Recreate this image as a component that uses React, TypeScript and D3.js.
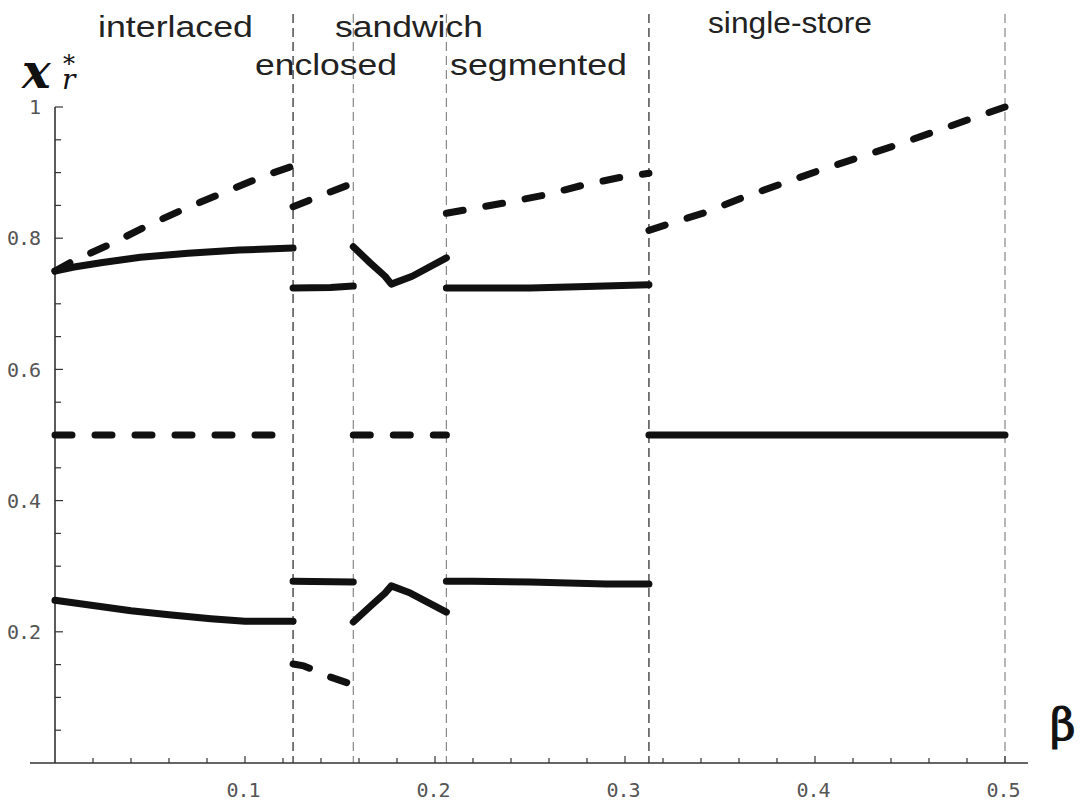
import React, { useEffect } from "react";
import * as d3 from "d3";

// ---------- data ----------
const regionNames = ["interlaced", "enclosed", "sandwich", "segmented", "single-store"];
const regionBounds = [0.1253, 0.157, 0.206, 0.3126, 0.5];

const xTickLabels = ["0.1", "0.2", "0.3", "0.4", "0.5"];
const yTickLabels = ["0.2", "0.4", "0.6", "0.8", "1"];

// interlaced
const upperSolid1 = [[0, 0.75], [0.01, 0.756], [0.025, 0.763], [0.045, 0.771], [0.07, 0.777], [0.097, 0.782], [0.1253, 0.785]];
const lowerSolid1 = [[0, 0.248], [0.02, 0.24], [0.04, 0.232], [0.06, 0.226], [0.082, 0.22], [0.1, 0.216], [0.1253, 0.216]];
const upperDashed1 = [[0, 0.75], [0.01, 0.766], [0.03, 0.792], [0.05, 0.821], [0.07, 0.847], [0.09, 0.871], [0.11, 0.895], [0.1253, 0.91]];
const midDashed1 = [[0, 0.5], [0.1253, 0.5]];
// enclosed
const upperDashed2 = [[0.1253, 0.848], [0.14, 0.865], [0.157, 0.884]];
const upperSolid2 = [[0.1253, 0.724], [0.145, 0.725], [0.157, 0.727]];
const lowerSolid2 = [[0.1253, 0.277], [0.157, 0.276]];
const lowerDashed2 = [[0.1253, 0.151], [0.131, 0.148], [0.145, 0.131], [0.157, 0.119]];
// sandwich
const upperSolid3 = [[0.157, 0.787], [0.166, 0.762], [0.1737, 0.742], [0.177, 0.73], [0.188, 0.742], [0.206, 0.77]];
const lowerSolid3 = [[0.157, 0.215], [0.166, 0.239], [0.1737, 0.259], [0.177, 0.27], [0.187, 0.259], [0.206, 0.23]];
const midDashed3 = [[0.157, 0.5], [0.206, 0.5]];
// segmented
const upperDashed4 = [[0.206, 0.838], [0.237, 0.854], [0.258, 0.866], [0.278, 0.881], [0.298, 0.893], [0.3126, 0.899]];
const upperSolid4 = [[0.206, 0.724], [0.25, 0.724], [0.275, 0.726], [0.3126, 0.729]];
const lowerSolid4 = [[0.206, 0.277], [0.22, 0.277], [0.25, 0.276], [0.29, 0.273], [0.3126, 0.273]];
// single-store
const upperDashed5 = [[0.3126, 0.812], [0.343, 0.84], [0.362, 0.862], [0.403, 0.904], [0.443, 0.942], [0.482, 0.982], [0.5, 1.0]];
const midSolid5 = [[0.3126, 0.5], [0.5, 0.5]];

const solidCurves = [upperSolid1, lowerSolid1, upperSolid2, lowerSolid2, upperSolid3, lowerSolid3, upperSolid4, lowerSolid4, midSolid5];
const dashedCurves = [upperDashed1, midDashed1, upperDashed2, lowerDashed2, midDashed3, upperDashed4, upperDashed5];

// ---------- layout ----------
const W = 1088, H = 809;
const xScale = d3.scaleLinear().domain([0, 0.5]).range([55, 1005]);
const yScale = d3.scaleLinear().domain([0, 1]).range([763, 107]);
const labelLayout = [
  { x: 98, y: 37, w: 155 },
  { x: 255, y: 75, w: 142 },
  { x: 335, y: 37, w: 148 },
  { x: 450, y: 75, w: 177 },
  { x: 708, y: 33, w: 164 },
];
const boundColors = ["#222", "#888", "#888", "#222", "#888"];

export default function App() {
  useEffect(() => {
    document.body.style.margin = "0";
  }, []);
  const line = d3
    .line<number[]>()
    .x((d) => xScale(d[0]))
    .y((d) => yScale(d[1]));

  const xMinor = d3.range(1, 26).map((i) => i * 0.02);
  const yMinor = d3.range(1, 21).map((i) => i * 0.05);
  const y0 = yScale(0);
  const x0 = xScale(0);
  const tickFont = "'DejaVu Sans Mono', monospace";

  return (
    <svg width={W} height={H} style={{ position: "absolute", left: 0, top: 0, background: "#fff" }}>
      {/* region boundaries */}
      {regionBounds.map((b, i) => (
        <line key={"b" + i} x1={xScale(b)} x2={xScale(b)} y1={14} y2={y0}
          stroke={boundColors[i]} strokeWidth={1.2} strokeDasharray="9,5" />
      ))}
      {/* axes */}
      <line x1={30} x2={1028} y1={y0} y2={y0} stroke="#333" strokeWidth={1.6} />
      <line x1={x0} x2={x0} y1={yScale(1)} y2={y0} stroke="#333" strokeWidth={1.6} />
      {xMinor.map((v, i) => {
        const major = (i + 1) % 5 === 0;
        return <line key={"xt" + i} x1={xScale(v)} x2={xScale(v)} y1={y0} y2={y0 - (major ? 7 : 5)} stroke="#333" strokeWidth={1.2} />;
      })}
      {yMinor.map((v, i) => {
        const major = (i + 1) % 4 === 0;
        return <line key={"yt" + i} x1={x0} x2={x0 + (major ? 8 : 6)} y1={yScale(v)} y2={yScale(v)} stroke="#333" strokeWidth={1.2} />;
      })}
      {xTickLabels.map((t) => (
        <text key={"xl" + t} x={xScale(+t) - 2} y={797} textAnchor="middle" fontFamily={tickFont} fontSize={20} letterSpacing={-1} fill="#555">{t}</text>
      ))}
      {yTickLabels.map((t) => (
        <text key={"yl" + t} x={40} y={yScale(+t)} dy="0.36em" textAnchor="end" fontFamily={tickFont} fontSize={20} letterSpacing={-1} fill="#555">{t}</text>
      ))}
      {/* curves */}
      {solidCurves.map((c, i) => (
        <path key={"s" + i} d={line(c) || ""} fill="none" stroke="#111" strokeWidth={7} strokeLinecap="round" strokeLinejoin="round" />
      ))}
      {dashedCurves.map((c, i) => (
        <path key={"d" + i} d={line(c) || ""} fill="none" stroke="#111" strokeWidth={7} strokeLinecap="round" strokeLinejoin="round" strokeDasharray="17,23" />
      ))}
      {/* region labels */}
      {regionNames.map((n, i) => (
        <text key={"r" + i} x={labelLayout[i].x} y={labelLayout[i].y} textLength={labelLayout[i].w} lengthAdjust="spacingAndGlyphs"
          fontFamily="'Liberation Sans', Arial, sans-serif" fontSize={30} fill="#222">{n}</text>
      ))}
      {/* axis labels */}
      <text x={22} y={88} fontFamily="'DejaVu Serif', serif" fontStyle="italic" fontWeight="bold" fontSize={48} fill="#111">x</text>
      <text x={62} y={89} fontFamily="'DejaVu Serif', serif" fontStyle="italic" fontSize={28} fill="#111">r</text>
      <text x={63} y={72} fontFamily="'DejaVu Serif', serif" fontSize={24} fill="#111">*</text>
      <text x={1050} y={740} fontFamily="'DejaVu Serif', serif" fontSize={44} fill="#111" stroke="#111" strokeWidth={1.2}>β</text>
    </svg>
  );
}
